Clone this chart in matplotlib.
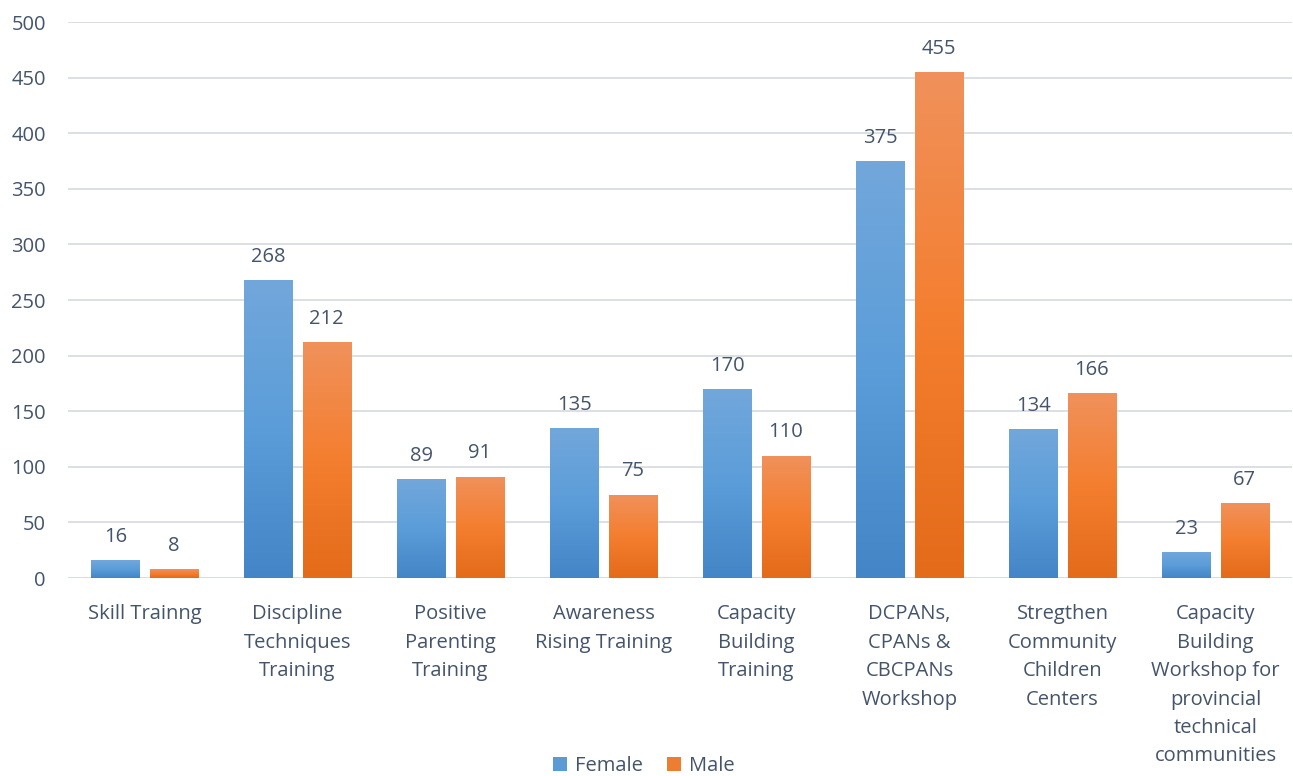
import matplotlib
matplotlib.use("Agg")
import matplotlib.pyplot as plt
import numpy as np
from matplotlib.colors import LinearSegmentedColormap
from matplotlib.patches import Patch

categories = ["Skill Trainng", "Discipline\nTechniques\nTraining", "Positive\nParenting\nTraining",
              "Awareness\nRising Training", "Capacity\nBuilding\nTraining", "DCPANs,\nCPANs &\nCBCPANs\nWorkshop",
              "Stregthen\nCommunity\nChildren\nCenters", "Capacity\nBuilding\nWorkshop for\nprovincial\ntechnical\ncommunities"]
female = [16, 268, 89, 135, 170, 375, 134, 23]
male = [8, 212, 91, 75, 110, 455, 166, 67]
yticks = [0, 50, 100, 150, 200, 250, 300, 350, 400, 450, 500]

plt.rcParams['font.family'] = ['Open Sans', 'DejaVu Sans']
txt = '#44546a'
fs = 14.5

fig = plt.figure(figsize=(12.93, 7.76), dpi=100)
ax = fig.add_axes([68/1293, 1 - 578/776, 1224/1293, (578 - 22)/776])

x = np.arange(len(categories))
w = 0.314
off = 0.19
cmap_f = LinearSegmentedColormap.from_list('f', ['#4385c6', '#5b9dd9', '#72a7db'])
cmap_m = LinearSegmentedColormap.from_list('m', ['#e36b1a', '#f47e2f', '#f0915b'])

grad = np.linspace(0, 1, 256).reshape(-1, 1)
for vals, sign, cm in [(female, -1, cmap_f), (male, 1, cmap_m)]:
    bars = ax.bar(x + sign * off, vals, w, color='none', edgecolor='none', zorder=3)
    for b, v in zip(bars, vals):
        x0, y0 = b.get_x(), b.get_y()
        im = ax.imshow(grad, extent=[x0, x0 + b.get_width(), y0, y0 + b.get_height()],
                       origin='lower', cmap=cm, aspect='auto', zorder=3)
        im.set_clip_path(b)
        ax.text(b.get_x() + b.get_width() / 2, v + 12, str(v), ha='center', va='bottom',
                fontsize=fs, color=txt, zorder=4)

ax.set_xlim(-0.5, len(categories) - 0.5)
ax.set_ylim(0, 500)
ax.set_yticks(yticks)
ax.yaxis.grid(True, color='#d9dde3', linewidth=1.3, zorder=0)
ax.set_axisbelow(True)
for s in ax.spines.values():
    s.set_visible(False)
ax.tick_params(axis='both', length=0, labelsize=fs, colors=txt)
ax.tick_params(axis='y', pad=16)
ax.set_xticks(x)
ax.set_xticklabels(categories, linespacing=1.56)
ax.tick_params(axis='x', pad=19)
ax.axhline(0, color='#d9dde3', linewidth=1.3, zorder=2)

handles = [Patch(facecolor='#5b9bd5'), Patch(facecolor='#ed7d31')]
fig.legend(handles, ['Female', 'Male'], loc='center', bbox_to_anchor=(0.498, 1 - 766/776),
           ncol=2, frameon=False, fontsize=fs, labelcolor=txt, handlelength=0.7, handleheight=0.7,
           columnspacing=1.2, handletextpad=0.4)

fig.savefig('out.png', dpi=100)
